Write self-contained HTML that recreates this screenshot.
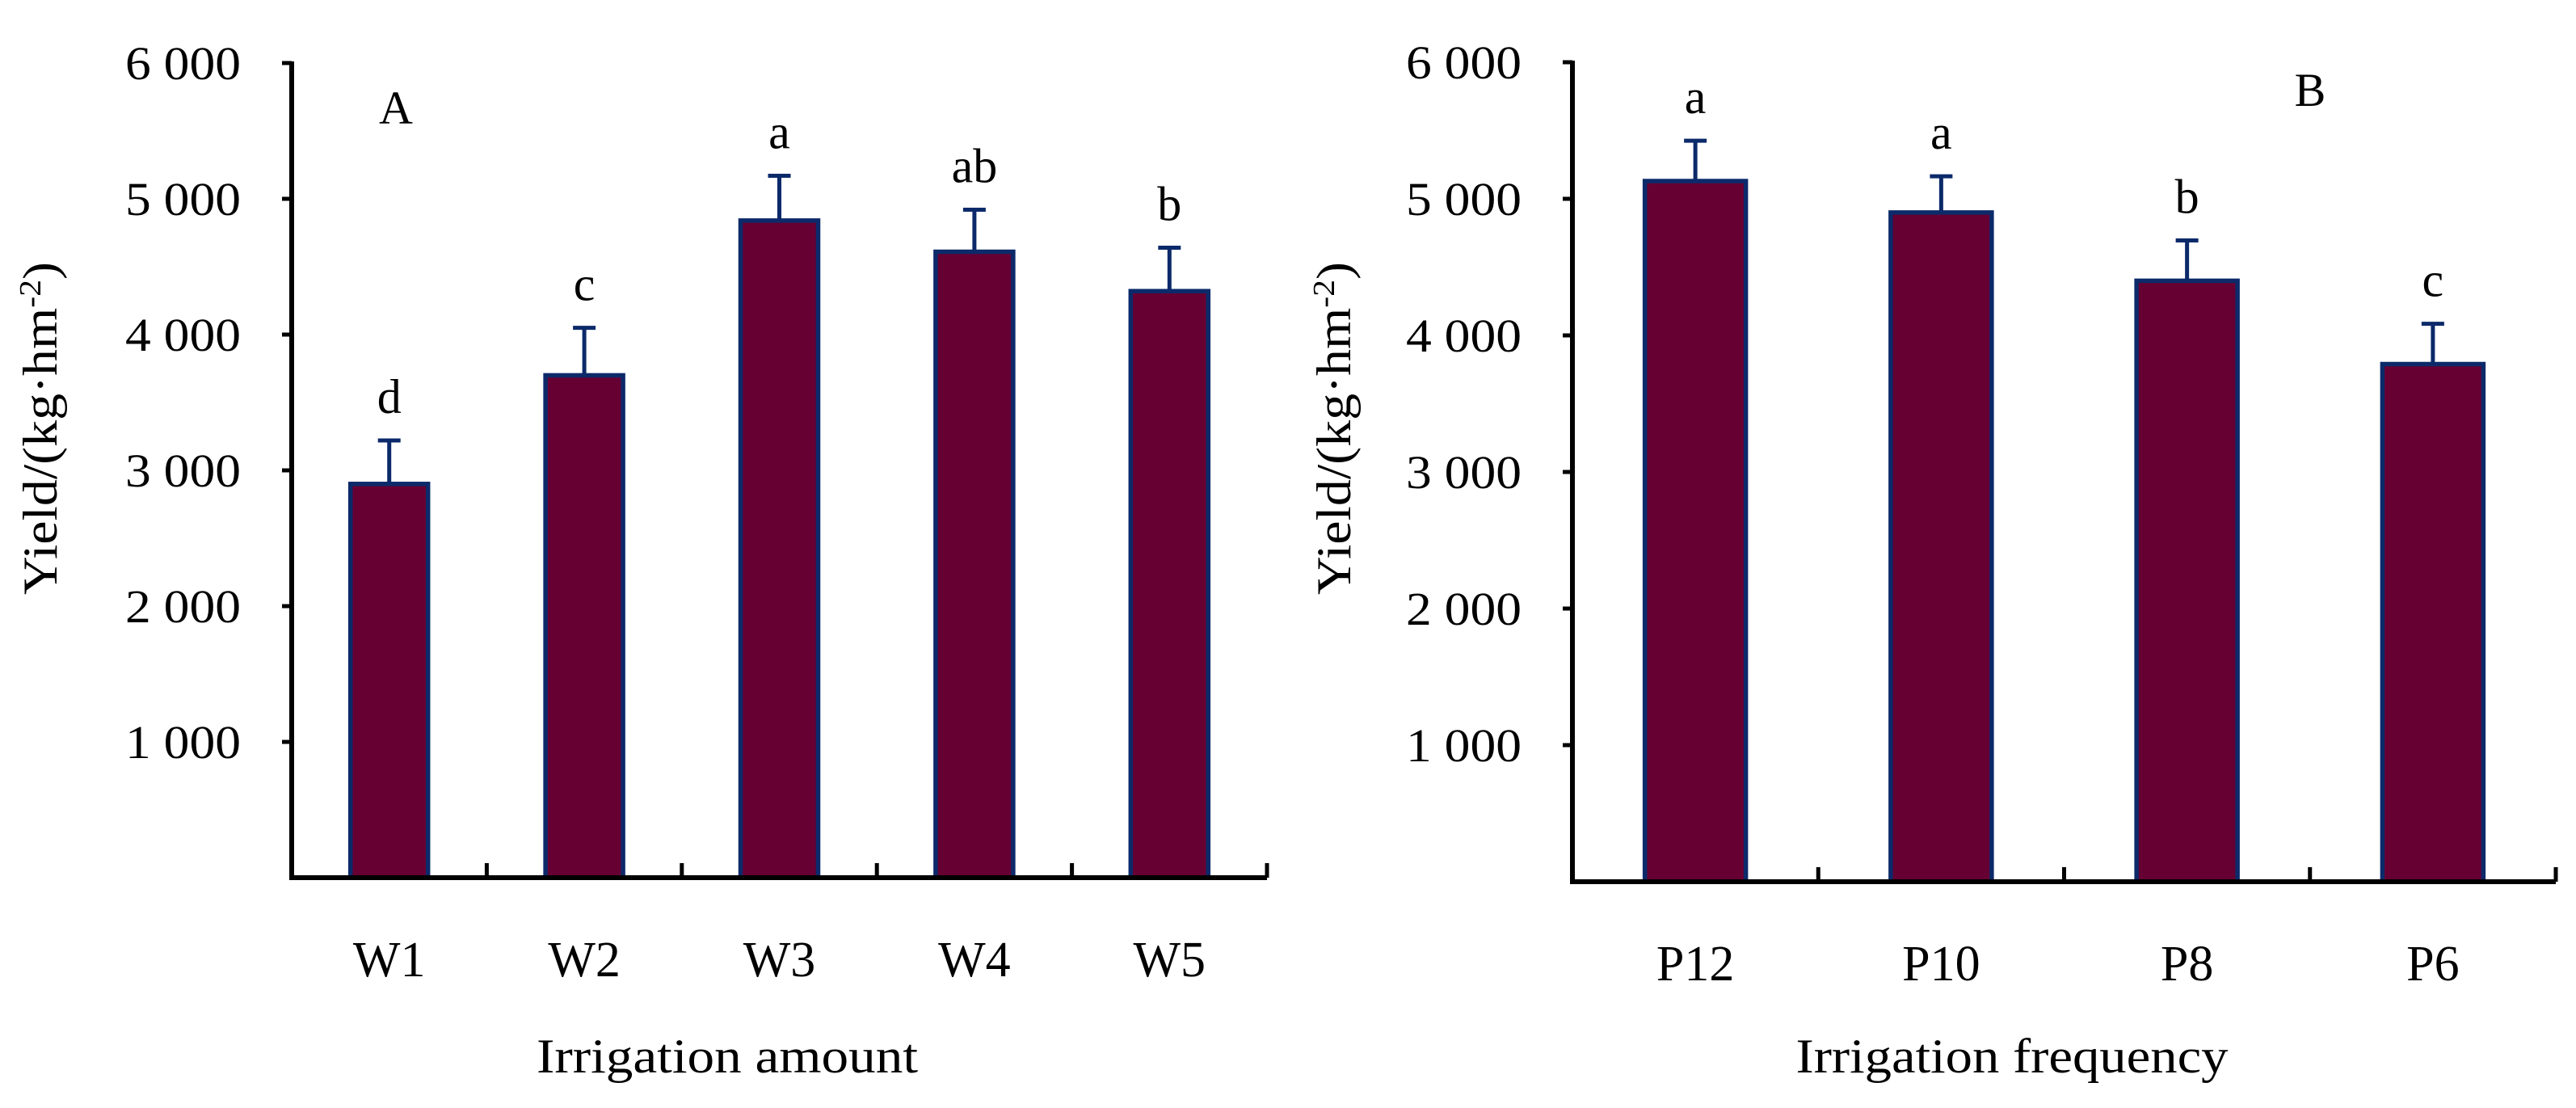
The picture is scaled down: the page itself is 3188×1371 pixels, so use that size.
<!DOCTYPE html>
<html><head><meta charset="utf-8"><style>
html,body{margin:0;padding:0;background:#fff}
svg{display:block}
text{font-family:"Liberation Serif",serif;fill:#000}
</style></head><body>
<svg id="chart" width="3188" height="1371" viewBox="0 0 3188 1371" xmlns="http://www.w3.org/2000/svg"></svg>
<script>
const catsA = ["W1","W2","W3","W4","W5"];
const valsA = [2900,3700,4840,4610,4320];
const errA = [320,350,330,310,320];
const sigA = ["d","c","a","ab","b"];
const catsB = ["P12","P10","P8","P6"];
const valsB = [5130,4900,4400,3790];
const errB = [295,265,295,295];
const sigB = ["a","a","b","c"];
const yTicks = [1000,2000,3000,4000,5000,6000];
const yTickLabels = ["1 000","2 000","3 000","4 000","5 000","6 000"];

const NS="http://www.w3.org/2000/svg";
const svg=document.getElementById('chart');
function mk(tag,attrs,parent,txt){const e=document.createElementNS(NS,tag);for(const k in attrs)e.setAttribute(k,attrs[k]);if(txt!==undefined)e.textContent=txt;(parent||svg).appendChild(e);return e;}

function panel(o){
  const g=mk('g',{});
  
  
  const y=v=>o.base-(v/6000)*(o.base-o.top);
  const cw=(o.xEnd-o.x0)/o.cats.length;
  const xc=i=>o.x0+cw*(i+0.5);
  o.vals.forEach((v,i)=>{
    const et=y(v+o.err[i]);
    const l=mk('line',{x1:xc(i),x2:xc(i),y1:y(v),y2:et,stroke:'#0c2a6a','stroke-width':5},g);
    
    
    const c=mk('line',{x1:xc(i)-14,x2:xc(i)+14,y1:et,y2:et,stroke:'#0c2a6a','stroke-width':5},g);
    
    
    const r=mk('rect',{x:xc(i)-o.bw/2,y:y(v),width:o.bw,height:o.base-y(v),fill:'#660033',stroke:'#0c2a6a','stroke-width':5.5},g);
    
    
    const s=mk('text',{x:xc(i),y:et-34,'font-size':60,'text-anchor':'middle'},g,o.sig[i]);
    
    
    const t=mk('text',{x:xc(i),y:o.base+122,'font-size':62,'text-anchor':'middle'},g,o.cats[i]);
    
    
  });
  const ya=mk('line',{x1:o.x0,x2:o.x0,y1:o.top-2,y2:o.base+3,stroke:'#000','stroke-width':6},g);
  
  
  const xa=mk('line',{x1:o.x0-3,x2:o.xEnd,y1:o.base,y2:o.base,stroke:'#000','stroke-width':6},g);
  
  
  for(let i=1;i<=o.cats.length;i++){
    const tk=mk('line',{x1:o.x0+cw*i,x2:o.x0+cw*i,y1:o.base,y2:o.base-18,stroke:'#000','stroke-width':5},g);
    
    
  }
  yTicks.forEach((v,i)=>{
    const tk=mk('line',{x1:o.x0-12,x2:o.x0,y1:y(v),y2:y(v),stroke:'#000','stroke-width':5},g);
    
    
    const tl=mk('text',{x:o.x0-63,y:y(v)+20,'font-size':58,'text-anchor':'end',textLength:143,lengthAdjust:'spacingAndGlyphs'},g,yTickLabels[i]);
    
    
  });
  const yt=mk('text',{x:0,y:0,'font-size':60,'text-anchor':'middle',transform:`translate(${o.ytx},530) rotate(-90)`,textLength:412,lengthAdjust:'spacingAndGlyphs'},g);
  
  
  yt.appendChild(document.createTextNode('Yield/(kg·hm'));
  mk('tspan',{'font-size':38,dy:-20},yt,'-2');
  mk('tspan',{'font-size':60,dy:20},yt,')');
  const xt=mk('text',{x:o.xtc,y:1327,'font-size':60,'text-anchor':'middle',textLength:o.xtw,lengthAdjust:'spacingAndGlyphs'},g,o.xtitle);
  
  
  const pl=mk('text',{x:o.px,y:o.py,'font-size':58,'text-anchor':'middle'},g,o.plabel);
  
  
}
panel({name:'panel-a',cats:catsA,vals:valsA,err:errA,sig:sigA,x0:361,xEnd:1568,top:78,base:1086,bw:96,ytx:70,xtc:900,xtw:472,xtitle:'Irrigation amount',plabel:'A',px:490,py:153});
panel({name:'panel-b',cats:catsB,vals:valsB,err:errB,sig:sigB,x0:1946,xEnd:3163,top:77,base:1091,bw:125,ytx:1671,xtc:2490,xtw:535,xtitle:'Irrigation frequency',plabel:'B',px:2859,py:131});
</script>
</body></html>
